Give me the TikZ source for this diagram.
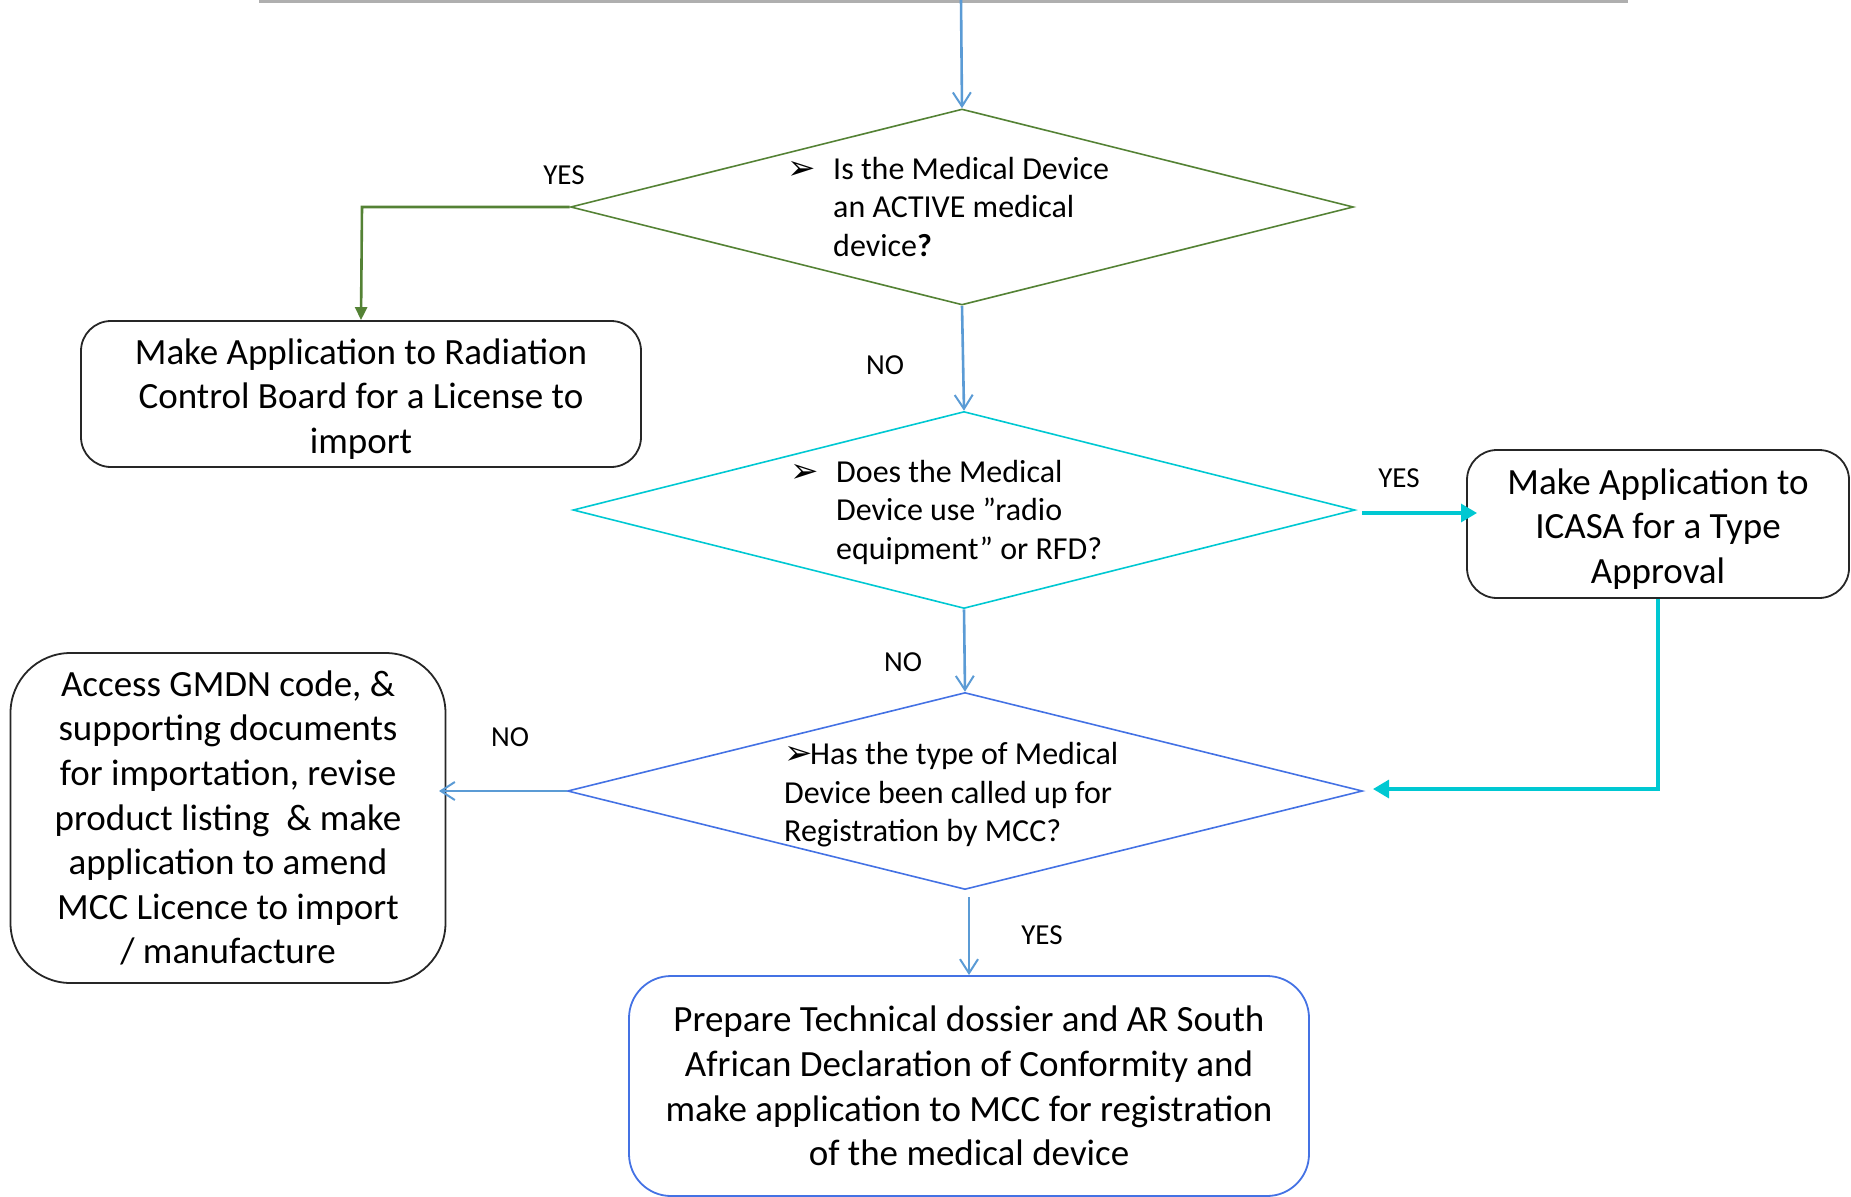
\documentclass[tikz,border=0pt]{standalone}
\usepackage{fontspec}
\setmainfont{Carlito}
\newfontfamily\dejavu{DejaVu Sans}
\usetikzlibrary{shapes.geometric,arrows.meta}
\definecolor{dgreen}{RGB}{84,130,53}
\definecolor{dcyan}{RGB}{0,200,210}
\definecolor{dblue}{RGB}{68,114,228}
\definecolor{cblue}{RGB}{91,155,213}
\definecolor{topgray}{RGB}{175,175,175}
\newcommand{\qbul}[1]{\makebox[#1][l]{\fontsize{34}{34}\selectfont\dejavu ➢}}
\begin{document}
\begin{tikzpicture}[x=1pt,y=-1pt,
  decision/.style={diamond, draw, line width=1.6pt, inner sep=0pt},
  procbox/.style={draw=black!85, line width=1.8pt, align=center, inner sep=0pt, font=\fontsize{37}{44.6}\selectfont},
  boxtext/.style={align=center, inner sep=0pt, font=\fontsize{37}{44.6}\selectfont},
  qtext/.style={align=left, inner sep=0pt, font=\fontsize{32}{38.4}\selectfont, anchor=west},
  lbl/.style={font=\fontsize{29}{34}\selectfont, inner sep=0pt},
  flow/.style={draw=cblue, line width=2.6pt, -{Straight Barb[length=14pt,width=18pt,line width=2pt]}},
  gflow/.style={draw=dgreen, line width=2.6pt, -{Triangle[length=13pt,width=12pt]}},
  cflow/.style={draw=dcyan, line width=3.2pt, -{Triangle[length=16pt,width=18pt]}}]
\useasboundingbox (0,0) rectangle (1851,1196);

% top gray line
\coordinate (tl) at (259,1.5);
\coordinate (tr) at (1628,1.5);
\draw[topgray, line width=3pt] (tl) -- (tr);
\coordinate (start) at (961,0);

% decisions
\node[decision, draw=dgreen, minimum width=783pt, minimum height=196pt] (d1) at (962,207) {};
\node[decision, draw=dcyan, minimum width=782pt, minimum height=197pt] (d2) at (964,510) {};
\node[decision, draw=dblue, minimum width=795pt, minimum height=197pt] (d3) at (965,791) {};

% decision texts
\node[qtext] (t1) at (787,210) {\begin{tabular}{@{}l@{}l@{}}\qbul{46pt} & Is the Medical Device\\ & an ACTIVE medical\\ & device\textbf{?}\end{tabular}};
\node[qtext] (t2) at (790,513) {\begin{tabular}{@{}l@{}l@{}}\qbul{46pt} & Does the Medical\\ & Device use ”radio\\ & equipment” or RFD?\end{tabular}};
\node[qtext] (t3) at (784,795) {\qbul{26pt}Has the type of Medical\\Device been called up for\\Registration by MCC?};

% process boxes
\node[procbox, rounded corners=30pt, minimum width=560pt, minimum height=146pt,
  label={[boxtext, yshift=-5pt]center:{Make Application to Radiation\\Control Board for a License to\\import}}] (b1) at (361,394) {};
\node[procbox, rounded corners=30pt, minimum width=382pt, minimum height=148pt,
  label={[boxtext, yshift=-5pt]center:{Make Application to\\ICASA for a Type\\Approval}}] (b2) at (1658,524) {};
\node[procbox, rounded corners=60pt, minimum width=435pt, minimum height=330pt] (b3) at (228,818)
  {Access GMDN code, \&\\supporting documents\\for importation, revise\\product listing~~\& make\\application to amend\\MCC Licence to import\\/ manufacture};
\node[procbox, draw=dblue, rounded corners=42pt, minimum width=680pt, minimum height=220pt] (b4) at (969,1086)
  {Prepare Technical dossier and AR South\\African Declaration of Conformity and\\make application to MCC for registration\\of the medical device};

% labels
\node[lbl] (l1) at (564,175) {YES};
\node[lbl] (l2) at (885,365) {NO};
\node[lbl] (l3) at (1399,478) {YES};
\node[lbl] (l4) at (903,662) {NO};
\node[lbl] (l5) at (510,737) {NO};
\node[lbl] (l6) at (1042,935) {YES};

% helper coordinates
\coordinate (g1) at (362,207);
\coordinate (c1s) at (1362,513);
\coordinate (c1e) at (1477,513);
\coordinate (c2a) at (1658,789);
\coordinate (c2e) at (1373,789);
\coordinate (n3e) at (439,791);
\coordinate (y3s) at (969,897);
\coordinate (y3e) at (969,975);

% connectors
\draw[flow] (start) -- (d1.north);
\draw[gflow] (d1.west) -- (g1) -- (b1.north);
\draw[flow] (d1.south) -- (d2.north);
\draw[cflow] (c1s) -- (c1e);
\draw[cflow] (b2.south) -- (c2a) -- (c2e);
\draw[flow] (d2.south) -- (d3.north);
\draw[flow] (d3.west) -- (n3e);
\draw[flow] (y3s) -- (y3e);
\end{tikzpicture}
\end{document}
